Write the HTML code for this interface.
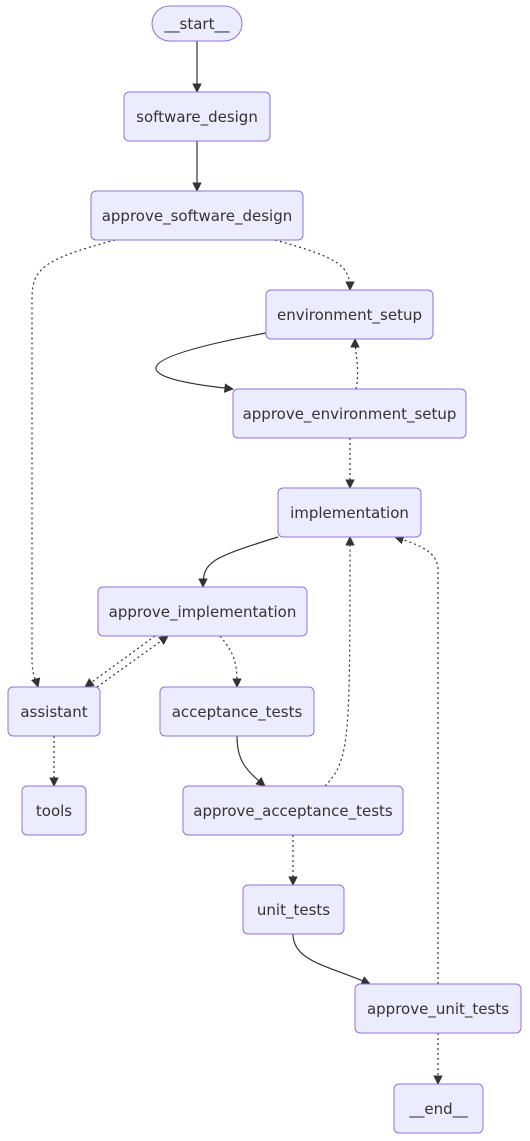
<!DOCTYPE html>
<html><head><meta charset="utf-8"><style>
html,body{margin:0;padding:0;background:#fff;}
svg{display:block;}
text{font-family:"DejaVu Sans","Liberation Sans",sans-serif;font-size:15px;fill:#333;text-anchor:middle;dominant-baseline:central;}
.n{fill:#ECECFF;stroke:#9370DB;stroke-width:1;}
.e{fill:none;stroke:#333;stroke-width:1.2;}
.d{stroke-dasharray:2,3;}
</style></head><body>
<svg width="530" height="1141" viewBox="0 0 530 1141">
<defs><marker id="a" viewBox="0 0 10 10" refX="9" refY="5" markerWidth="8" markerHeight="8" orient="auto-start-reverse"><path d="M0,0 L10,5 L0,10 z" fill="#333"/></marker></defs>
<g marker-end="url(#a)">
<path class="e" d="M197,41 L197,92"/>
<path class="e" d="M197,141 L197,191"/>
<path class="e d" d="M275,240 C340,258 350,266 350,290"/>
<path class="e d" d="M115,240 C40,260 32,270 32,300 L32,660 C32,675 36,680 38,687"/>
<path class="e" d="M266,333 C120,360 130,378 233,389"/>
<path class="e d" d="M356,389 C360,370 355,352 355,339"/>
<path class="e d" d="M350,438 L350,488"/>
<path class="e" d="M278,537 C210,558 203,562 203,587"/>
<path class="e d" d="M155,636 L85,687"/>
<path class="e d" d="M97,687 L168,636"/>
<path class="e d" d="M220,636 C236,655 237,665 237,687"/>
<path class="e d" d="M54,736 L54,786"/>
<path class="e" d="M237,736 C237,760 245,770 265,786"/>
<path class="e d" d="M325,786 C350,760 350,740 350,537"/>
<path class="e d" d="M293,835 L293,885"/>
<path class="e" d="M293,934 C293,962 330,966 370,984"/>
<path class="e d" d="M438,984 L438,570 C438,552 420,545 395,537"/>
<path class="e d" d="M438,1033 L438,1084"/>
</g>
<rect class="n" x="152" y="6" width="90" height="35" rx="17.5"/><text x="197" y="24">__start__</text>
<rect class="n" x="124" y="92" width="146" height="49" rx="5"/><text x="197" y="117">software_design</text>
<rect class="n" x="91" y="191" width="212" height="49" rx="5"/><text x="197" y="216">approve_software_design</text>
<rect class="n" x="266" y="290" width="167" height="49" rx="5"/><text x="349.5" y="315">environment_setup</text>
<rect class="n" x="233" y="389" width="233" height="49" rx="5"/><text x="349.5" y="414">approve_environment_setup</text>
<rect class="n" x="278" y="488" width="143" height="49" rx="5"/><text x="349.5" y="513">implementation</text>
<rect class="n" x="98" y="587" width="209" height="49" rx="5"/><text x="202.5" y="612">approve_implementation</text>
<rect class="n" x="8" y="687" width="92" height="49" rx="5"/><text x="54" y="712">assistant</text>
<rect class="n" x="160" y="687" width="154" height="49" rx="5"/><text x="237" y="712">acceptance_tests</text>
<rect class="n" x="22" y="786" width="64" height="49" rx="5"/><text x="54" y="811">tools</text>
<rect class="n" x="183" y="786" width="220" height="49" rx="5"/><text x="293" y="811">approve_acceptance_tests</text>
<rect class="n" x="243" y="885" width="101" height="49" rx="5"/><text x="293.5" y="910">unit_tests</text>
<rect class="n" x="355" y="984" width="166" height="49" rx="5"/><text x="438" y="1009">approve_unit_tests</text>
<rect class="n" x="394" y="1084" width="89" height="49" rx="5"/><text x="438.5" y="1109">__end__</text>
</svg>
</body></html>
